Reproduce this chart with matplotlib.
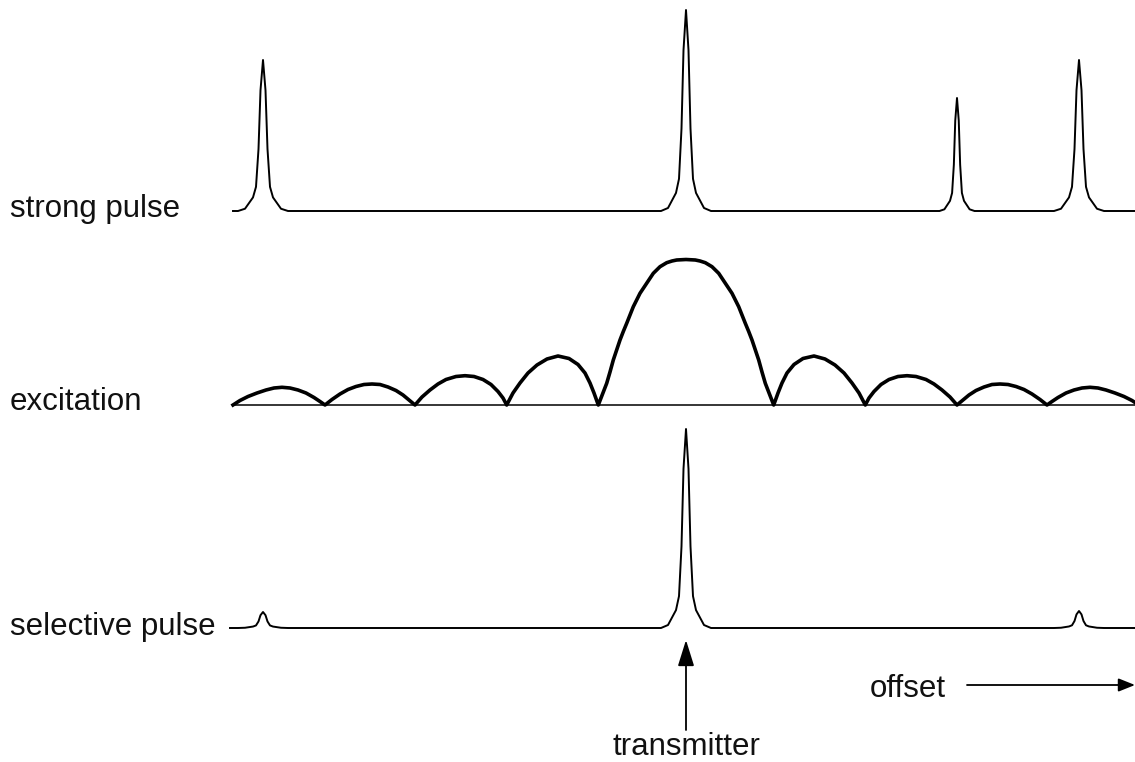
import numpy as np
import matplotlib.pyplot as plt

plt.rcParams['font.family'] = ['Liberation Sans', 'DejaVu Sans']

# strong (hard) pulse spectrum: peak offsets, heights, relative widths
strong_pos = [-423, 0, 271, 393]
strong_height = [151, 201, 113, 151]
strong_width = [1.0, 1.0, 0.7, 1.0]

# selective pulse spectrum
sel_pos = [-423, 0, 393]
sel_height = [16, 199, 17]
sel_width = [1.0, 1.0, 1.0]

# peak shape (offset, fraction of height)
shape_dx = [-25, -18, -10, -7, -4.5, -2.5, 0, 2.5, 4.5, 7, 10, 18, 25]
shape_frac = [0, 0.015, 0.09, 0.16, 0.41, 0.8, 1.0, 0.8, 0.41, 0.16, 0.09, 0.015, 0]

# excitation profile (offset, height)
exc_dx = [-453, -446, -438, -429, -420, -412, -404, -396, -388, -380, -372, -366,
          -361, -354, -346, -338, -330, -322, -314, -306, -298, -290, -283, -277,
          -271, -264, -256, -248, -240, -230, -221, -212, -203, -195, -188, -183,
          -179.3, -173, -166, -158, -149, -139, -128, -117, -108, -101, -96, -92,
          -87.7, -83.5, -79.3, -76, -72.7, -69.3, -66, -62.7, -59.3, -56, -52.7, -49.3,
          -46, -39.3, -32.7, -26, -19.3, -14, -9.3, 0,
          9.3, 14, 19.3, 26, 32.7, 39.3, 46,
          49.3, 52.7, 56, 59.3, 62.7, 66, 69.3, 72.7, 76, 79.3, 83.5, 87.7,
          92, 96, 101, 108, 117, 128, 139, 149, 158, 166, 173, 179.3,
          183, 188, 195, 203, 212, 221, 230, 240, 248, 256, 264, 271,
          277, 283, 290, 298, 306, 314, 322, 330, 338, 346, 354, 361,
          366, 372, 380, 388, 396, 404, 412, 420, 429, 438, 446, 449]
exc_h = [0, 4.5, 8.5, 12, 15, 17, 17.7, 17, 15, 12, 7.5, 3.5,
         0, 5.5, 11, 15.5, 18.5, 20.5, 21, 20.5, 18, 14.5, 10, 5,
         0, 8, 15, 21, 25.5, 28.5, 29.3, 28.5, 25.5, 20.5, 13.5, 7,
         0, 12, 22, 32, 40, 46, 49, 46.5, 40.5, 32, 22, 12,
         0, 11, 21.7, 33, 45, 55, 65, 73.5, 81.7, 90, 98.3, 105,
         111.7, 121.7, 131.7, 138.3, 142.3, 144, 145, 145.5,
         145, 144, 142.3, 138.3, 131.7, 121.7, 111.7,
         105, 98.3, 90, 81.7, 73.5, 65, 55, 45, 33, 21.7, 11, 0,
         12, 22, 32, 40.5, 46.5, 49, 46, 40, 32, 22, 12, 0,
         7, 13.5, 20.5, 25.5, 28.5, 29.3, 28.5, 25.5, 21, 15, 8, 0,
         5, 10, 14.5, 18, 20.5, 21, 20.5, 18.5, 15.5, 11, 5.5, 0,
         3.5, 7.5, 12, 15, 17, 17.7, 17, 15, 12, 8.5, 4.5, 2.5]

labels = ['strong pulse', 'excitation', 'selective pulse']


def spectrum(pos, height, width, start, end):
    xs, ys = [start], [0]
    for p, h, w in zip(pos, height, width):
        xs += [p + w * d for d in shape_dx]
        ys += [h * f for f in shape_frac]
    xs.append(end)
    ys.append(0)
    return np.array(xs), np.array(ys)


fig = plt.figure(figsize=(11.35, 7.62), dpi=100)
ax = fig.add_axes([0, 0, 1, 1])
ax.set_xlim(-686, 449)
ax.set_ylim(0, 762)
ax.axis('off')

base = [551, 357, 134]

x, y = spectrum(strong_pos, strong_height, strong_width, -453, 449)
ax.plot(x, y + base[0], color='black', lw=1.4)

ax.plot([-453, 449], [base[1], base[1]], color='black', lw=1.1)
ax.plot(exc_dx, np.array(exc_h) + base[1], color='black', lw=2.6,
        solid_joinstyle='round')

x, y = spectrum(sel_pos, sel_height, sel_width, -456, 449)
ax.plot(x, y + base[2], color='black', lw=1.4)

for lab, b in zip(labels, [545, 352, 127]):
    ax.text(-676, b, lab, fontsize=22.5, va='baseline', ha='left', color='#111111')

ax.annotate('', xy=(0, 122), xytext=(0, 32),
            arrowprops=dict(arrowstyle='-|>,head_length=0.8,head_width=0.25',
                            mutation_scale=20, lw=1.3, color='black',
                            shrinkA=0, shrinkB=0))
ax.text(0, 7, 'transmitter', fontsize=22.5, ha='center', va='baseline', color='#111111')

ax.annotate('', xy=(449, 77), xytext=(281, 77),
            arrowprops=dict(arrowstyle='-|>,head_length=0.5,head_width=0.2',
                            mutation_scale=20, lw=1.3, color='black',
                            shrinkA=0, shrinkB=0))
ax.text(184, 65, 'offset', fontsize=22.5, ha='left', va='baseline', color='#111111')

plt.savefig('out.png', dpi=100)
